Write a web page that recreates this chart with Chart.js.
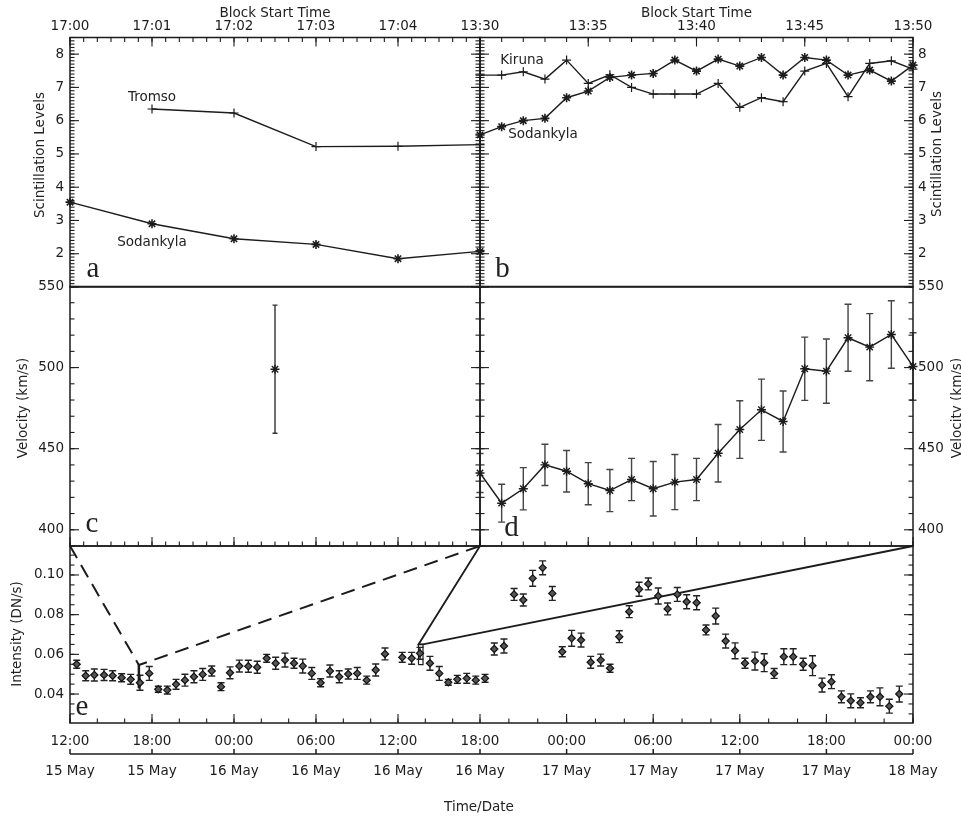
<!DOCTYPE html>
<html>
<head>
<meta charset="utf-8">
<title>Scintillation levels, velocity and intensity</title>
<script src="https://cdn.jsdelivr.net/npm/chart.js@4.4.1/dist/chart.umd.min.js"></script>
<style>
  body { margin: 0; background: #fff; }
  #fig { position: relative; width: 961px; height: 816px; overflow: hidden; }
  #fig canvas { position: absolute; left: 0; top: 0; }
  .t { position: absolute; transform: translate(-50%, -50%); white-space: nowrap;
       font: 13.5px "DejaVu Sans", sans-serif; line-height: 1; color: #222; }
  .r { transform: translate(-50%, -50%) rotate(-90deg); }
  .p { font: 29px "Liberation Serif", serif; }
</style>
</head>
<body>
<div id="fig">
  <canvas id="chartA" width="961" height="816"></canvas>
  <canvas id="chartB" width="961" height="816"></canvas>
  <canvas id="chartC" width="961" height="816"></canvas>
  <canvas id="chartD" width="961" height="816"></canvas>
  <canvas id="chartE" width="961" height="816"></canvas>

  <div class="t" style="left:275px;top:12.5px">Block Start Time</div>
  <div class="t" style="left:696.5px;top:12.5px">Block Start Time</div>
  <div class="t r" style="left:40px;top:155px">Scintillation Levels</div>
  <div class="t r" style="left:937px;top:154px">Scintillation Levels</div>
  <div class="t r" style="left:23px;top:408px">Velocity (km/s)</div>
  <div class="t r" style="left:957px;top:408px">Velocity (km/s)</div>
  <div class="t r" style="left:17px;top:634px">Intensity (DN/s)</div>
  <div class="t" style="left:479px;top:807px">Time/Date</div>

  <div class="t" style="left:152px;top:97px">Tromso</div>
  <div class="t" style="left:152px;top:242px">Sodankyla</div>
  <div class="t" style="left:522px;top:60px">Kiruna</div>
  <div class="t" style="left:543px;top:134px">Sodankyla</div>

  <div class="t p" style="left:93px;top:267px">a</div>
  <div class="t p" style="left:502.5px;top:267px">b</div>
  <div class="t p" style="left:92px;top:522px">c</div>
  <div class="t p" style="left:511.5px;top:526px">d</div>
  <div class="t p" style="left:82px;top:705px">e</div>
</div>

<script>
// ====================== DATA ======================
// panel a : block 17:00 - 17:05 (minutes after 17:00)
const aMinutes     = [0, 1, 2, 3, 4, 5];
const tromsoA      = [null, 6.35, 6.23, 5.22, 5.23, 5.28];
const sodankylaA   = [3.55, 2.90, 2.45, 2.28, 1.85, 2.07];
const aTickMinutes = [0, 1, 2, 3, 4];
const aTickLabels  = ['17:00', '17:01', '17:02', '17:03', '17:04'];

// panel b : block 13:30 - 13:50 (minutes after 13:30)
const bMinutes     = [0, 1, 2, 3, 4, 5, 6, 7, 8, 9, 10, 11, 12, 13, 14, 15, 16, 17, 18, 19, 20];
const kirunaB      = [7.37, 7.37, 7.47, 7.25, 7.82, 7.12, 7.38, 7.00, 6.80, 6.80, 6.80,
                      7.12, 6.40, 6.69, 6.57, 7.49, 7.72, 6.72, 7.72, 7.80, 7.55];
const sodankylaB   = [5.57, 5.82, 6.00, 6.07, 6.69, 6.89, 7.30, 7.37, 7.42, 7.82, 7.49,
                      7.85, 7.64, 7.90, 7.37, 7.90, 7.82, 7.37, 7.52, 7.19, 7.67];
const bTickMinutes = [0, 5, 10, 15, 20];
const bTickLabels  = ['13:30', '13:35', '13:40', '13:45', '13:50'];
const scintTicks   = [2, 3, 4, 5, 6, 7, 8];

// panels c, d : velocity (km/s)
const cMinutes = [2.5];
const velC     = [499];
const velCErr  = [39.5];
const dMinutes = bMinutes;
const velD     = [435, 416.4, 425.3, 440, 436.1, 428.4, 424.2, 431, 425.3, 429.4, 431,
                  447.2, 461.8, 474, 466.8, 499.3, 497.8, 518.4, 512.6, 520.4, 500.7];
const velDErr  = [12, 11.7, 13, 12.7, 12.8, 13, 13, 13, 16.8, 17, 13,
                  17.7, 17.8, 18.9, 18.8, 19.5, 19.8, 20.7, 20.7, 20.8, 20.8];
const velTicks = [400, 450, 500, 550];

// panel e : intensity (DN/s), hours after 12:00 15 May
const eHours = [0.49, 1.15, 1.78, 2.49, 3.12, 3.78, 4.44, 5.12, 5.80, 6.46, 7.12, 7.76, 8.41, 9.07, 9.71,
                10.37, 11.05, 11.71, 12.39, 13.05, 13.70, 14.39, 15.05, 15.73, 16.39, 17.03, 17.69, 18.34,
                19.02, 19.70, 20.36, 21.02, 21.71, 22.37, 23.05, 24.31, 25.00, 25.61, 26.34, 27.02, 27.68,
                28.34, 29.03, 29.69, 30.35, 30.99, 31.66, 32.36, 33.00, 33.65, 34.34, 35.01, 35.70, 36.35,
                37.00, 37.67, 38.36, 39.01, 39.65, 40.34, 41.02, 41.66, 42.35, 43.00, 43.67, 44.32, 45.01,
                45.66, 46.33, 47.02, 47.67, 48.36, 49.05, 49.69, 50.38, 51.05, 51.70, 52.39, 53.04, 53.70,
                54.35, 55.04, 55.69, 56.36, 57.05, 57.71, 58.36, 59.05];
const intensity = [0.0550, 0.0492, 0.0496, 0.0496, 0.0492, 0.0482, 0.0474, 0.0457, 0.0504, 0.0424, 0.0420,
                   0.0449, 0.0470, 0.0487, 0.0499, 0.0516, 0.0437, 0.0507, 0.0541, 0.0540, 0.0535, 0.0580,
                   0.0555, 0.0571, 0.0555, 0.0541, 0.0504, 0.0457, 0.0516, 0.0487, 0.0501, 0.0504, 0.0470,
                   0.0521, 0.0602, 0.0585, 0.0580, 0.0605, 0.0555, 0.0504, 0.0459, 0.0474, 0.0479, 0.0470,
                   0.0479, 0.0627, 0.0642, 0.0902, 0.0874, 0.0983, 0.1036, 0.0907, 0.0613, 0.0681, 0.0672,
                   0.0560, 0.0571, 0.0530, 0.0689, 0.0815, 0.0928, 0.0955, 0.0894, 0.0829, 0.0902, 0.0865,
                   0.0860, 0.0723, 0.0793, 0.0667, 0.0618, 0.0555, 0.0566, 0.0558, 0.0504, 0.0588, 0.0588,
                   0.0550, 0.0543, 0.0445, 0.0462, 0.0386, 0.0366, 0.0356, 0.0386, 0.0386, 0.0339, 0.0400];
const intensityErr = [0.0020, 0.0025, 0.0030, 0.0028, 0.0025, 0.0020, 0.0025, 0.0038, 0.0035, 0.0015, 0.0020,
                      0.0025, 0.0030, 0.0030, 0.0030, 0.0025, 0.0020, 0.0030, 0.0030, 0.0030, 0.0030, 0.0020,
                      0.0030, 0.0035, 0.0025, 0.0035, 0.0030, 0.0020, 0.0030, 0.0030, 0.0025, 0.0030, 0.0020,
                      0.0030, 0.0030, 0.0025, 0.0030, 0.0030, 0.0035, 0.0035, 0.0015, 0.0020, 0.0025, 0.0020,
                      0.0020, 0.0030, 0.0035, 0.0030, 0.0030, 0.0040, 0.0035, 0.0035, 0.0025, 0.0040, 0.0035,
                      0.0030, 0.0030, 0.0020, 0.0030, 0.0030, 0.0035, 0.0030, 0.0040, 0.0030, 0.0035, 0.0035,
                      0.0035, 0.0025, 0.0040, 0.0035, 0.0040, 0.0025, 0.0045, 0.0045, 0.0025, 0.0040, 0.0040,
                      0.0030, 0.0050, 0.0035, 0.0035, 0.0030, 0.0035, 0.0025, 0.0030, 0.0045, 0.0035, 0.0040];
const eTickHours     = [0, 6, 12, 18, 24, 30, 36, 42, 48, 54, 60];
const eTimeLabels    = ['12:00', '18:00', '00:00', '06:00', '12:00', '18:00', '00:00', '06:00', '12:00', '18:00', '00:00'];
const eDateLabels    = ['15 May', '15 May', '16 May', '16 May', '16 May', '16 May', '17 May', '17 May', '17 May', '17 May', '18 May'];
const intensityTicks = [0.04, 0.06, 0.08, 0.10];

// zoom markers in panel e (block a = dashed, block b = solid)
const zoomDashX  = [0, 5.04, 30];
const zoomDashY  = [0.1146, 0.0546, 0.1146];
const boxAX      = [5.0, 5.0, 5.08, 5.08, 5.0];
const boxAY      = [0.0430, 0.0546, 0.0546, 0.0430, 0.0430];
const zoomSolidX = [30, 25.5, 25.83, 60];
const zoomSolidY = [0.1146, 0.0650, 0.0650, 0.1146];
const boxBX      = [25.5, 25.5, 25.83, 25.83, 25.5];
const boxBY      = [0.0548, 0.0650, 0.0650, 0.0548, 0.0548];

// ====================== HELPERS ======================
const INK = '#1c1c1c';
const FONT = { family: '"DejaVu Sans", sans-serif', size: 13.5 };
const pts = (xs, ys) => xs.map((x, i) => ({ x: x, y: ys[i] }));
const steps = (a, b, st) => { const out = []; for (let v = a; v <= b + 1e-9; v += st) out.push(+v.toFixed(5)); return out; };

// piecewise linear axis: the bottom time axis of panel e is not uniform in the figure
class SplitLinearScale extends Chart.LinearScale {
  getPixelForValue(value) {
    if (value === null || value === undefined || isNaN(value)) return NaN;
    const sv = this.options.splitValue, sf = this.options.splitFraction;
    const d = value <= sv
      ? (value - this.min) / (sv - this.min) * sf
      : sf + (value - sv) / (this.max - sv) * (1 - sf);
    return this.getPixelForDecimal(d);
  }
  getValueForPixel(pixel) {
    const sv = this.options.splitValue, sf = this.options.splitFraction;
    const d = this.getDecimalForPixel(pixel);
    return d <= sf ? this.min + d / sf * (sv - this.min) : sv + (d - sf) / (1 - sf) * (this.max - sv);
  }
}
SplitLinearScale.id = 'splitLinear';
SplitLinearScale.defaults = {};
Chart.register(SplitLinearScale);

function axis(pos, min, max, tickVals, labelFn, size, pad, extra) {
  return Object.assign({
    type: 'linear', position: pos, min: min, max: max,
    afterBuildTicks: s => { s.ticks = tickVals.map(v => ({ value: v })); },
    afterFit: s => { if (pos === 'left' || pos === 'right') s.width = size; else s.height = size; },
    ticks: { callback: labelFn, padding: pad, font: FONT, color: INK, autoSkip: false, maxRotation: 0, minRotation: 0 },
    grid: { display: false, drawTicks: false },
    border: { display: false }
  }, extra || {});
}
const hidden = (min, max) => ({ type: 'linear', display: false, min: min, max: max });

// inward tick marks, frames and error bars, keyed by canvas id
const tickSpecs = {
  chartA: { ticks: [
    { scale: 'x', major: steps(0, 5, 1), minor: steps(0, 5, 1 / 6), sides: ['top'] },
    { scale: 'y', major: steps(1, 8, 1), minor: steps(1, 8.5, 0.1), sides: ['left', 'right'] }] },
  chartB: { ticks: [
    { scale: 'x', major: steps(0, 20, 5), minor: steps(0, 20, 1), sides: ['top'] },
    { scale: 'y', major: steps(1, 8, 1), minor: steps(1, 8.5, 0.1), sides: ['left', 'right'] }] },
  chartC: { ticks: [
    { scale: 'x', major: steps(0, 5, 1), minor: steps(0, 5, 1 / 6), sides: ['bottom'] },
    { scale: 'y', major: velTicks, minor: steps(390, 550, 10), sides: ['left', 'right'] }] },
  chartD: { ticks: [
    { scale: 'x', major: steps(0, 20, 5), minor: steps(0, 20, 1), sides: ['bottom'] },
    { scale: 'y', major: velTicks, minor: steps(390, 550, 10), sides: ['left', 'right'] }] },
  chartE: { ticks: [
    { scale: 'x', major: eTickHours, minor: steps(0, 60, 2), sides: ['bottom'] },
    { scale: 'y', major: intensityTicks, minor: steps(0.025, 0.115, 0.005), sides: ['left', 'right'] }],
    rule: { y: 754, values: eTickHours } }
};

const marks = {
  id: 'marks',
  beforeDatasetsDraw(chart) {
    const ctx = chart.ctx, ys = chart.scales.y;
    chart.data.datasets.forEach((ds, di) => {
      if (!ds.errors) return;
      const meta = chart.getDatasetMeta(di);
      ctx.save();
      ctx.strokeStyle = ds.errorColor || INK;
      ctx.lineWidth = 1.4;
      meta.data.forEach((el, i) => {
        const v = ds.data[i].y, e = ds.errors[i], w = ds.capWidth / 2;
        const top = ys.getPixelForValue(v + e), bot = ys.getPixelForValue(v - e);
        ctx.beginPath();
        ctx.moveTo(el.x, top); ctx.lineTo(el.x, bot);
        ctx.moveTo(el.x - w, top); ctx.lineTo(el.x + w, top);
        ctx.moveTo(el.x - w, bot); ctx.lineTo(el.x + w, bot);
        ctx.stroke();
      });
      ctx.restore();
    });
  },
  afterDatasetsDraw(chart) {
    const spec = tickSpecs[chart.canvas.id];
    const ctx = chart.ctx, a = chart.chartArea;
    ctx.save();
    ctx.strokeStyle = INK;
    ctx.lineWidth = 1.5;
    ctx.strokeRect(a.left, a.top, a.right - a.left, a.bottom - a.top);
    ctx.lineWidth = 1.1;
    spec.ticks.forEach(t => {
      const s = chart.scales[t.scale];
      [[t.minor, 4.5], [t.major, 9]].forEach(([vals, len]) => vals.forEach(v => {
        if (v < s.min - 1e-9 || v > s.max + 1e-9) return;
        const p = s.getPixelForValue(v);
        t.sides.forEach(side => {
          ctx.beginPath();
          if (side === 'top')    { ctx.moveTo(p, a.top);    ctx.lineTo(p, a.top + len); }
          if (side === 'bottom') { ctx.moveTo(p, a.bottom); ctx.lineTo(p, a.bottom - len); }
          if (side === 'left')   { ctx.moveTo(a.left, p);   ctx.lineTo(a.left + len, p); }
          if (side === 'right')  { ctx.moveTo(a.right, p);  ctx.lineTo(a.right - len, p); }
          ctx.stroke();
        });
      }));
    });
    if (spec.rule) {
      const s = chart.scales.x, y = spec.rule.y;
      ctx.lineWidth = 1.5;
      ctx.beginPath(); ctx.moveTo(a.left, y); ctx.lineTo(a.right, y); ctx.stroke();
      spec.rule.values.forEach(v => {
        const p = s.getPixelForValue(v);
        ctx.beginPath(); ctx.moveTo(p, y); ctx.lineTo(p, y - 5); ctx.stroke();
      });
    }
    ctx.restore();
  }
};

const lineSet = (data, style, radius, bw) => ({
  data: data, showLine: true, borderColor: INK, borderWidth: 1.4, clip: false,
  pointStyle: style, pointRadius: radius, pointBorderColor: INK, pointBorderWidth: bw,
  pointBackgroundColor: INK
});

function makeChart(id, datasets, scales, padding) {
  return new Chart(document.getElementById(id), {
    type: 'scatter',
    data: { datasets: datasets },
    options: {
      responsive: false, animation: false, events: [],
      layout: { padding: padding },
      plugins: { legend: { display: false }, tooltip: { enabled: false } },
      scales: scales
    },
    plugins: [marks]
  });
}

// ====================== CHARTS ======================
const scintLabel = v => String(v);
const velLabel = v => String(v);

makeChart('chartA', [
  lineSet(pts(aMinutes, tromsoA), 'cross', 4.5, 1.2),
  lineSet(pts(aMinutes, sodankylaA), 'star', 4.5, 1.6)
], {
  x: axis('top', 0, 5, aTickMinutes, (v, i) => aTickLabels[i], 37.5, 2.4),
  y: axis('left', 1, 8.5, scintTicks, scintLabel, 70, 6)
}, { left: 0, top: 0, right: 481, bottom: 529 });

makeChart('chartB', [
  lineSet(pts(bMinutes, kirunaB), 'cross', 4.5, 1.2),
  lineSet(pts(bMinutes, sodankylaB), 'star', 4.5, 1.6)
], {
  x: axis('top', 0, 20, bTickMinutes, (v, i) => bTickLabels[i], 37.5, 2.4),
  y: axis('right', 1, 8.5, scintTicks, scintLabel, 48, 5)
}, { left: 480, top: 0, right: 0, bottom: 529 });

makeChart('chartC', [
  Object.assign(lineSet(pts(cMinutes, velC), 'star', 4.5, 1.4),
    { showLine: false, errors: velCErr, capWidth: 5, errorColor: '#333' })
], {
  x: hidden(0, 5),
  y: axis('left', 390, 550, velTicks, velLabel, 70, 6)
}, { left: 0, top: 286.5, right: 481, bottom: 270 });

makeChart('chartD', [
  Object.assign(lineSet(pts(dMinutes, velD), 'star', 4.5, 1.4),
    { errors: velDErr, capWidth: 7, errorColor: '#444' })
], {
  x: hidden(0, 20),
  y: axis('right', 390, 550, velTicks, velLabel, 48, 5)
}, { left: 480, top: 286.5, right: 0, bottom: 270 });

const splitOpts = { type: 'splitLinear', splitValue: 30, splitFraction: 410 / 843 };
makeChart('chartE', [
  { data: pts(eHours, intensity), showLine: false, clip: false,
    pointStyle: 'rectRot', pointRadius: 3.6, pointBackgroundColor: '#555',
    pointBorderColor: '#111', pointBorderWidth: 1.2,
    errors: intensityErr, capWidth: 7, errorColor: '#222' },
  { data: pts(zoomDashX, zoomDashY), showLine: true, borderColor: INK, borderWidth: 2,
    borderDash: [14, 8], pointRadius: 0, clip: false },
  { data: pts(boxAX, boxAY), showLine: true, borderColor: INK, borderWidth: 1.4, pointRadius: 0, clip: false },
  { data: pts(zoomSolidX, zoomSolidY), showLine: true, borderColor: INK, borderWidth: 1.8, pointRadius: 0, clip: false },
  { data: pts(boxBX, boxBY), showLine: true, borderColor: INK, borderWidth: 1.2, pointRadius: 0, clip: false }
], {
  x: axis('bottom', 0, 60, eTickHours, (v, i) => eTimeLabels[i], 31, 9.9, splitOpts),
  x2: axis('bottom', 0, 60, eTickHours, (v, i) => eDateLabels[i], 30, 8.9, Object.assign({ weight: 1 }, splitOpts)),
  y: axis('left', 0.0254, 0.1146, intensityTicks, v => v.toFixed(2), 70, 6)
}, { left: 0, top: 546, right: 48, bottom: 32 });
</script>
</body>
</html>
